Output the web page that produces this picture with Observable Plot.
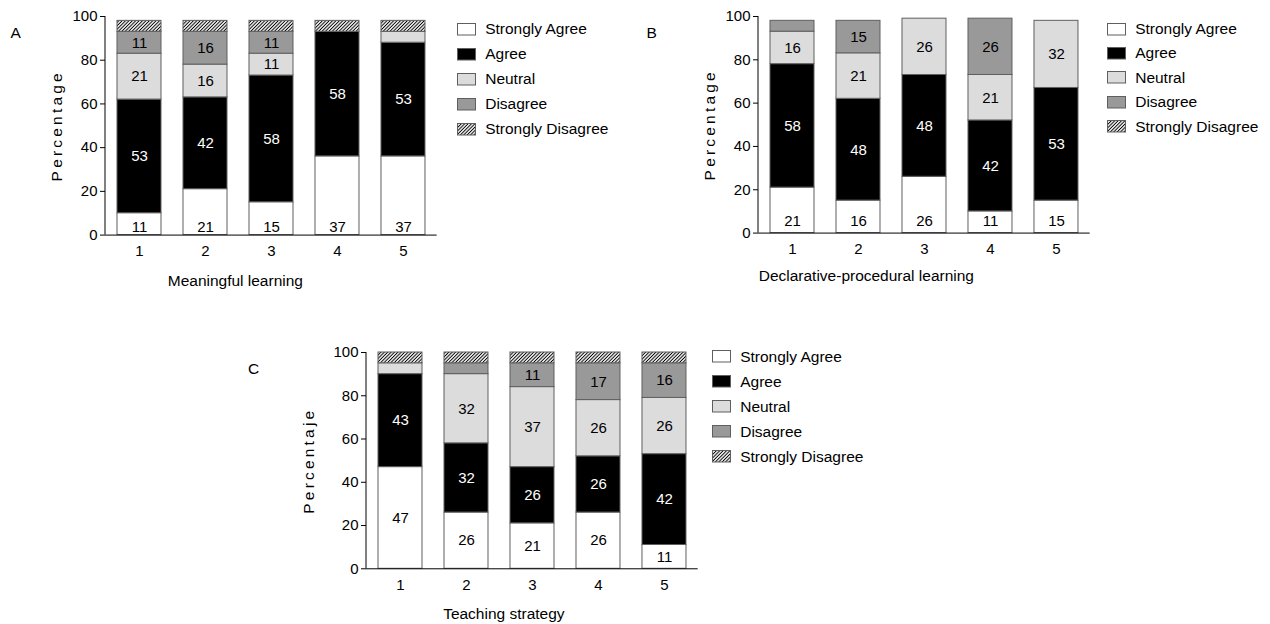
<!DOCTYPE html>
<html>
<head>
<meta charset="utf-8">
<script src="https://cdn.jsdelivr.net/npm/d3@7"></script>
<script src="https://cdn.jsdelivr.net/npm/@observablehq/plot@0.6"></script>
<style>
html,body{margin:0;padding:0;background:#fff;}
#root{position:relative;width:1270px;height:624px;overflow:hidden;font-family:"Liberation Sans",Arial,Helvetica,sans-serif;color:#000;}
#root svg.chart{position:absolute;overflow:visible;}
.letter{position:absolute;font-size:15.5px;line-height:1;}
.legend{position:absolute;font-size:15.5px;}
.legend .row{position:absolute;left:0;height:16px;display:flex;align-items:center;white-space:nowrap;}
.legend .row svg{display:block;}
</style>
</head>
<body>
<svg width="0" height="0" style="position:absolute">
  <defs>
    <pattern id="hatch" patternUnits="userSpaceOnUse" width="2.4" height="2.4" patternTransform="rotate(45)">
      <rect width="2.4" height="2.4" fill="#ffffff"/>
      <line x1="1.2" y1="0" x2="1.2" y2="2.4" stroke="#000" stroke-width="1"/>
    </pattern>
  </defs>
</svg>
<div id="root"></div>
<script>
// ---------- data ----------
const categories = ["Strongly Agree", "Agree", "Neutral", "Disagree", "Strongly Disagree"];
const items = ["1", "2", "3", "4", "5"];
const fills = ["#ffffff", "#000000", "#dcdcdc", "#999999", "url(#hatch)"];

// A – Meaningful learning (segment heights, % ; order = categories)
const meaningfulValues = [
  [10, 52, 21, 10, 5],
  [21, 42, 15, 15, 5],
  [15, 58, 10, 10, 5],
  [36, 57, 0, 0, 5],
  [36, 52, 5, 0, 5]
];
const meaningfulLabels = [
  ["11", "53", "21", "11", ""],
  ["21", "42", "16", "16", ""],
  ["15", "58", "11", "11", ""],
  ["37", "58", "", "", ""],
  ["37", "53", "", "", ""]
];

// B – Declarative-procedural learning
const declarativeValues = [
  [21, 57, 15, 5, 0],
  [15, 47, 21, 15, 0],
  [26, 47, 26, 0, 0],
  [10, 42, 21, 26, 0],
  [15, 52, 31, 0, 0]
];
const declarativeLabels = [
  ["21", "58", "16", "", ""],
  ["16", "48", "21", "15", ""],
  ["26", "48", "26", "", ""],
  ["11", "42", "21", "26", ""],
  ["15", "53", "32", "", ""]
];

// C – Teaching strategy
const teachingValues = [
  [47, 43, 5, 0, 5],
  [26, 32, 32, 5, 5],
  [21, 26, 37, 11, 5],
  [26, 26, 26, 17, 5],
  [11, 42, 26, 16, 5]
];
const teachingLabels = [
  ["47", "43", "", "", ""],
  ["26", "32", "32", "", ""],
  ["21", "26", "37", "11", ""],
  ["26", "26", "26", "17", ""],
  ["11", "42", "26", "16", ""]
];

const yTicks = [0, 20, 40, 60, 80, 100];

// ---------- drawing ----------
const root = document.getElementById("root");
const FONT = '"Liberation Sans", Arial, Helvetica, sans-serif';

function panel(o) {
  const mL = 75, mT = 10, mB = 60, mR = 5, rangeW = 331.7;
  const rows = [];
  items.forEach((it, i) => {
    let acc = 0;
    categories.forEach((c, j) => {
      const v = o.values[i][j];
      if (v > 0) {
        rows.push({
          item: it, category: c, y1: acc, y2: acc + v, label: o.labels[i][j],
          ly: (j === 0 && o.saLabelY != null) ? o.saLabelY : acc + v / 2
        });
      }
      acc += v;
    });
  });

  const yAxisLine = (index, scales, values, dimensions) => {
    const l = document.createElementNS("http://www.w3.org/2000/svg", "line");
    l.setAttribute("x1", dimensions.marginLeft);
    l.setAttribute("x2", dimensions.marginLeft);
    l.setAttribute("y1", scales.y(0));
    l.setAttribute("y2", scales.y(100));
    l.setAttribute("stroke", "#000");
    l.setAttribute("stroke-width", "1");
    return l;
  };

  const chart = Plot.plot({
    width: mL + rangeW + mR,
    height: mT + (o.y0 - o.y100) + mB,
    marginLeft: mL, marginTop: mT, marginRight: mR, marginBottom: mB,
    style: {fontFamily: FONT, fontSize: "15px", color: "#000", background: "transparent", overflow: "visible"},
    x: {domain: items, paddingInner: 0.334, paddingOuter: 0.177, label: null},
    y: {domain: [0, 100], label: null},
    color: {domain: categories, range: fills},
    marks: [
      Plot.rectY(rows, {x: "item", y1: "y1", y2: "y2", fill: "category", stroke: "#5f5f5f", strokeWidth: 1}),
      Plot.text(rows.filter(d => d.label && d.category !== "Agree"), {x: "item", y: "ly", text: "label", fill: "#000", fontSize: 15}),
      Plot.text(rows.filter(d => d.label && d.category === "Agree"), {x: "item", y: "ly", text: "label", fill: "#fff", fontSize: 15}),
      Plot.ruleY([0], {stroke: "#000", strokeWidth: 1}),
      yAxisLine,
      Plot.axisY({ticks: yTicks, tickSize: 5, tickPadding: 3, fontSize: 15, label: null, stroke: "#000"}),
      Plot.axisX({tickSize: 0, tickPadding: 10.5, fontSize: 15, label: null}),
      Plot.text([o.xLabel], {text: d => d, frameAnchor: "bottom", dx: o.xLabelDx, dy: o.xLabelDy, lineAnchor: "middle", fontSize: 15.5}),
      Plot.text([o.yLabel], {text: d => d, frameAnchor: "left", dx: o.yLabelDx, rotate: -90, textAnchor: "middle", lineAnchor: "middle", fontSize: 15.5})
    ]
  });
  chart.classList.add("chart");
  chart.style.left = (o.axisX - mL) + "px";
  chart.style.top = (o.y100 - mT) + "px";
  d3.select(chart).selectAll("text")
    .filter(function () { return this.textContent === o.yLabel; })
    .attr("letter-spacing", "3.2px");
  root.appendChild(chart);

  // panel letter
  const L = document.createElement("div");
  L.className = "letter";
  L.textContent = o.letter;
  L.style.left = o.letterX + "px";
  L.style.top = (o.letterY - 8) + "px";
  root.appendChild(L);

  // legend
  const lg = document.createElement("div");
  lg.className = "legend";
  lg.style.left = o.legendX + "px";
  lg.style.top = o.legendY + "px";
  categories.forEach((c, j) => {
    const r = document.createElement("div");
    r.className = "row";
    r.style.top = (j * o.legendStep - 8) + "px";
    const s = d3.create("svg").attr("width", 19).attr("height", 13);
    s.append("rect").attr("x", 0.5).attr("y", 0.5).attr("width", 18).attr("height", 11.5)
      .attr("fill", fills[j]).attr("stroke", "#5f5f5f").attr("stroke-width", 1);
    r.appendChild(s.node());
    const t = document.createElement("span");
    t.textContent = c;
    t.style.marginLeft = "9.5px";
    r.appendChild(t);
    lg.appendChild(r);
  });
  root.appendChild(lg);
}

panel({
  values: meaningfulValues, labels: meaningfulLabels,
  xLabel: "Meaningful learning", yLabel: "Percentage",
  axisX: 105, y100: 15.7, y0: 234.3, xLabelDx: -36, xLabelDy: 45.7, yLabelDx: -48, saLabelY: 3.7,
  letter: "A", letterX: 10.5, letterY: 33,
  legendX: 456.7, legendY: 29, legendStep: 25
});
panel({
  values: declarativeValues, labels: declarativeLabels,
  xLabel: "Declarative-procedural learning", yLabel: "Percentage",
  axisX: 758.3, y100: 15.7, y0: 232.3, xLabelDx: -58, xLabelDy: 42.7, yLabelDx: -48.3, saLabelY: 5.3,
  letter: "B", letterX: 646.5, letterY: 33,
  legendX: 1106.7, legendY: 29, legendStep: 24.4
});
panel({
  values: teachingValues, labels: teachingLabels,
  xLabel: "Teaching strategy", yLabel: "Percentaje",
  axisX: 366, y100: 351.7, y0: 568, xLabelDx: -28.5, xLabelDy: 45.3, yLabelDx: -57.7, saLabelY: null,
  letter: "C", letterX: 248, letterY: 368.5,
  legendX: 711.7, legendY: 356.7, legendStep: 25
});
</script>
</body>
</html>
